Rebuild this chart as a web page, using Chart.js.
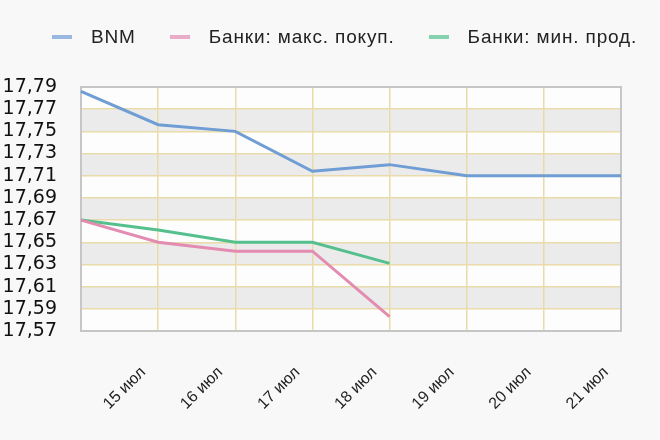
<!DOCTYPE html>
<html lang="ru">
<head>
<meta charset="utf-8">
<title>Курс</title>
<script src="https://cdn.jsdelivr.net/npm/chart.js@4.4.1/dist/chart.umd.min.js"></script>
<style>
    body { margin: 0; background: #f8f8f8; }
    #wrap { position: relative; width: 660px; height: 440px; }
    #legend { position: absolute; left: 52px; top: 26px; display: flex; align-items: center; white-space: nowrap;
        font-family: 'Liberation Sans', Arial, sans-serif; font-size: 19px; line-height: 22px; color: #222; letter-spacing: 0.85px; }
    #legend .item { display: flex; align-items: center; margin-right: 34px; flex: none; }
    #legend .mark { width: 20px; height: 4px; margin-right: 19px; }
</style>
</head>
<body>
<div id="wrap">
    <canvas id="rateChart" width="660" height="440"></canvas>
    <div id="legend"></div>
</div>
<script>
// Datos
const categories = ['', '15 июл', '16 июл', '17 июл', '18 июл', '19 июл', '20 июл', '21 июл'];
const bnmValues = [17.786, 17.756, 17.750, 17.714, 17.720, 17.710, 17.710, 17.710];
const bankBuyValues = [17.670, 17.650, 17.642, 17.642, 17.583, null, null, null];
const bankSellValues = [17.670, 17.661, 17.650, 17.650, 17.631, null, null, null];
const yTickValues = [17.57, 17.59, 17.61, 17.63, 17.65, 17.67, 17.69, 17.71, 17.73, 17.75, 17.77, 17.79];

const seriesNames = ['BNM', 'Банки: макс. покуп.', 'Банки: мин. прод.'];
const seriesColors = ['#6f9dd4', '#e38bb1', '#55c08e'];

let rateChart;

// fondo del área, franjas grises y borde
const plotBackground = {
    id: 'plotBackground',
    beforeDraw(chart) {
        const { ctx, chartArea, scales } = chart;
        ctx.save();
        ctx.fillStyle = '#fdfdfd';
        ctx.fillRect(chartArea.left, chartArea.top, chartArea.width, chartArea.height);
        ctx.fillStyle = '#ebebeb';
        for (let i = 1; i < yTickValues.length - 1; i += 2) {
            const y1 = scales.y.getPixelForValue(yTickValues[i + 1]);
            const y2 = scales.y.getPixelForValue(yTickValues[i]);
            ctx.fillRect(chartArea.left, y1, chartArea.width, y2 - y1);
        }
        ctx.restore();
    },
    beforeDatasetsDraw(chart) {
        const { ctx, chartArea } = chart;
        ctx.save();
        ctx.strokeStyle = '#c6c6c6';
        ctx.lineWidth = 2;
        ctx.strokeRect(chartArea.left, chartArea.top, chartArea.width, chartArea.height);
        ctx.restore();
    }
};

function buildLegend() {
    const legend = document.getElementById('legend');
    seriesNames.forEach((name, i) => {
        const item = document.createElement('div');
        item.className = 'item';
        const mark = document.createElement('span');
        mark.className = 'mark';
        mark.style.background = seriesColors[i];
        mark.style.opacity = '0.7';
        const text = document.createElement('span');
        text.textContent = name;
        item.appendChild(mark);
        item.appendChild(text);
        legend.appendChild(item);
    });
}

document.addEventListener('DOMContentLoaded', () => {
    buildLegend();

    const ctx = document.getElementById('rateChart').getContext('2d');
    const values = [bnmValues, bankBuyValues, bankSellValues];

    rateChart = new Chart(ctx, {
        type: 'line',
        data: {
            labels: categories,
            datasets: values.map((data, i) => ({
                label: seriesNames[i],
                data: data,
                borderColor: seriesColors[i],
                backgroundColor: seriesColors[i],
                borderWidth: 3,
                pointRadius: 0,
                tension: 0,
                fill: false,
            }))
        },
        options: {
            responsive: false,
            animation: false,
            layout: { padding: { top: 87, right: 39, bottom: 0, left: 0 } },
            plugins: {
                legend: { display: false },
                tooltip: { enabled: false },
            },
            scales: {
                x: {
                    type: 'category',
                    grid: { color: '#e9dcaa', lineWidth: 1.5, drawTicks: false },
                    border: { display: false },
                    ticks: {
                        autoSkip: false, minRotation: 45, maxRotation: 45,
                        labelOffset: -15, padding: 32, color: '#222',
                        font: { family: "'Liberation Sans', Arial, sans-serif", size: 16 },
                    },
                    afterFit: (scale) => {
                        scale.height = 109;
                        // las etiquetas giradas no necesitan margen lateral
                        scale.paddingLeft = 0;
                        scale.paddingRight = 0;
                    },
                },
                y: {
                    min: 17.57, max: 17.79,
                    grid: { color: '#e9dcaa', lineWidth: 1.5, drawTicks: false },
                    border: { display: false },
                    afterBuildTicks: (scale) => { scale.ticks = yTickValues.map(v => ({ value: v })); },
                    ticks: {
                        autoSkip: false, padding: 24, color: '#111',
                        font: { family: "'DejaVu Sans', sans-serif", size: 19, lineHeight: 1 },
                        callback: (value) => value.toFixed(2).replace('.', ','),
                    },
                    afterFit: (scale) => { scale.width = 81; },
                }
            }
        },
        plugins: [plotBackground]
    });
});
</script>
</body>
</html>
